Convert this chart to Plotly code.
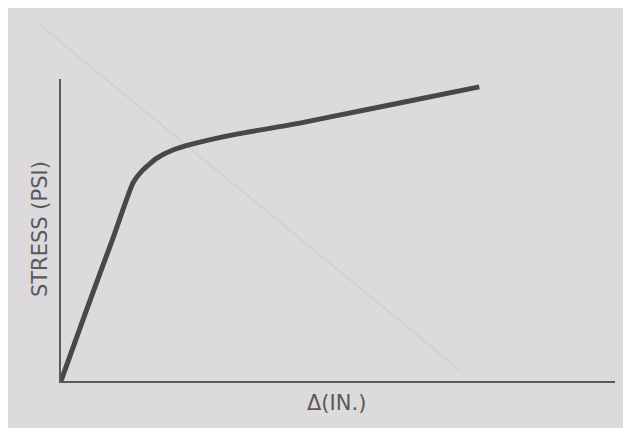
import plotly.graph_objects as go

# Deflection (arbitrary units) and stress (arbitrary units)
deflection = [0, 4.5, 9.4, 13.0, 14.8, 17.3, 20.2, 23.8, 31.0, 43.1, 49.3, 62.0, 75.5]
stress = [0, 23.0, 47.4, 65.6, 69.9, 73.8, 76.5, 78.5, 81.5, 85.4, 87.7, 92.4, 97.4]

x_title = "Δ(IN.)"
y_title = "STRESS (PSI)"

ink = "#4a4749"
axis_ink = "#5b585a"
paper = "#dcdadc"
font_family = "DejaVu Sans, Verdana, sans-serif"

fig = go.Figure()
fig.add_trace(go.Scatter(
    x=deflection, y=stress, mode="lines",
    line=dict(color=ink, width=5, shape="spline", smoothing=0.5),
    showlegend=False, hoverinfo="skip", cliponaxis=False,
))

fig.update_layout(
    width=623, height=420,
    margin=dict(l=53, r=16, t=71, b=47),
    paper_bgcolor=paper,
    plot_bgcolor=paper,
    xaxis=dict(range=[0, 100], showgrid=False, zeroline=False, showticklabels=False,
               ticks="", showline=True, linecolor=axis_ink, linewidth=2),
    yaxis=dict(range=[0, 100], showgrid=False, zeroline=False, showticklabels=False,
               ticks="", showline=True, linecolor=axis_ink, linewidth=2),
    shapes=[
        dict(type="line", xref="paper", yref="paper", x0=-0.038, y0=1.179, x1=0.720, y1=0.036,
             line=dict(color="#d4d1d6", width=2), layer="below"),
    ],
    annotations=[
        dict(text=y_title, xref="paper", yref="paper", x=-0.038, y=0.503,
             textangle=-90, showarrow=False, xanchor="center", yanchor="middle",
             font=dict(family=font_family, size=21, color=axis_ink)),
        dict(text=x_title, xref="paper", yref="paper", x=0.498, y=-0.073,
             showarrow=False, xanchor="center", yanchor="middle",
             font=dict(family=font_family, size=21, color=axis_ink)),
    ],
)

fig.write_html("out.html")
